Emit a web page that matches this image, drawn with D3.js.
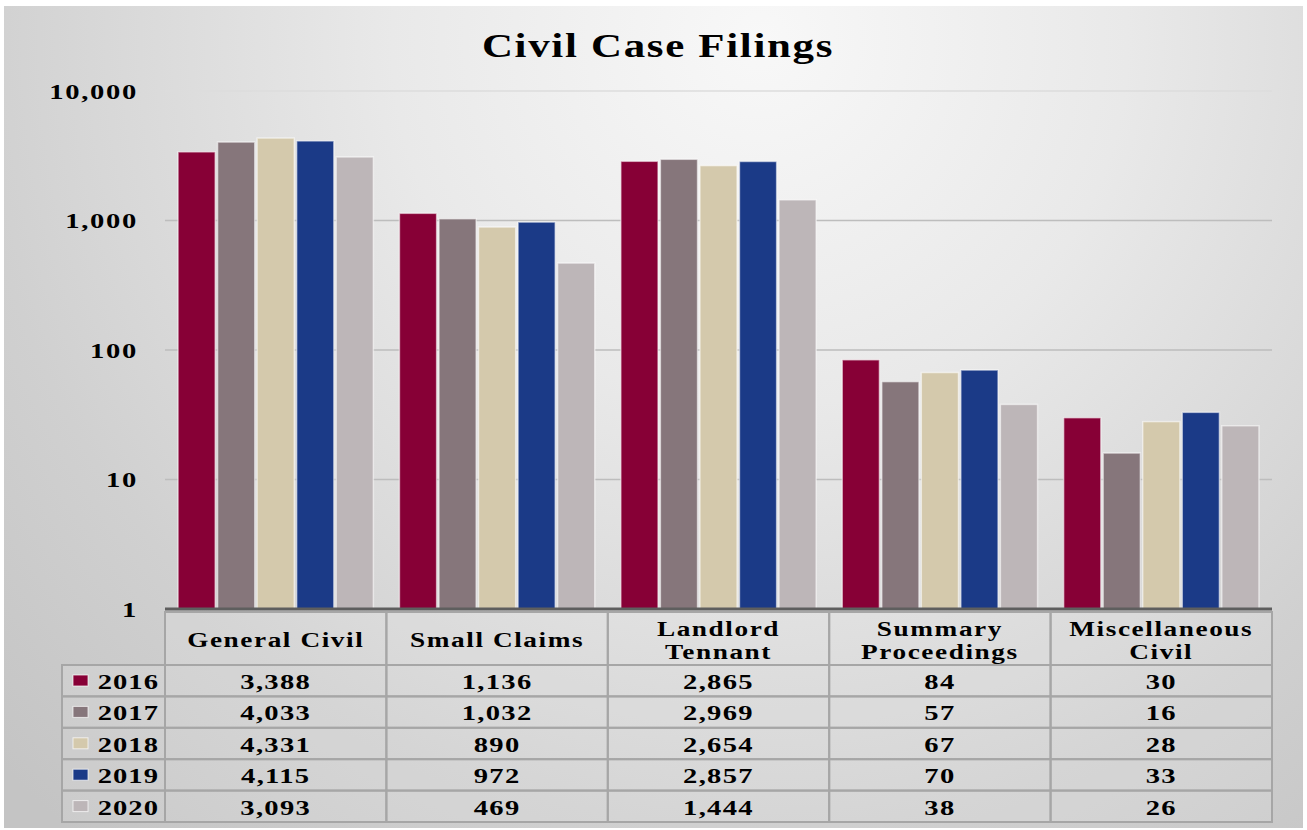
<!DOCTYPE html>
<html><head><meta charset="utf-8">
<script src="https://cdn.jsdelivr.net/npm/d3@7"></script>
<style>
html,body{margin:0;padding:0;background:#fff;}
svg{display:block;}
text{font-family:"Liberation Serif","Times New Roman",serif;font-weight:bold;fill:#000;}
</style></head>
<body>
<svg id="c" width="1307" height="830"></svg>
<script>
const categories = ["General Civil","Small Claims","Landlord Tennant","Summary Proceedings","Miscellaneous Civil"];
const categoryLines = [["General Civil"],["Small Claims"],["Landlord","Tennant"],["Summary","Proceedings"],["Miscellaneous","Civil"]];
const years = ["2016","2017","2018","2019","2020"];
const v2016 = [3388,1136,2865,84,30];
const v2017 = [4033,1032,2969,57,16];
const v2018 = [4331,890,2654,67,28];
const v2019 = [4115,972,2857,70,33];
const v2020 = [3093,469,1444,38,26];
const seriesValues = [v2016,v2017,v2018,v2019,v2020];
const colors = ["#870036","#86767b","#d4c9ac","#1b3a87","#bdb6b8"];
const yTicks = [1,10,100,1000,10000];
const title = "Civil Case Filings";

(function(){
const SX = 1.3;
const svg = d3.select("#c");
const defs = svg.append("defs");
const bg = defs.append("radialGradient").attr("id","bg").attr("gradientUnits","userSpaceOnUse")
  .attr("cx",760).attr("cy",40).attr("r",1050);
bg.append("stop").attr("offset","0%").attr("stop-color","#f8f8f8");
bg.append("stop").attr("offset","35%").attr("stop-color","#e9e9e9");
bg.append("stop").attr("offset","75%").attr("stop-color","#d0d0d0");
bg.append("stop").attr("offset","100%").attr("stop-color","#c4c4c4");
svg.append("rect").attr("x",4).attr("y",6).attr("width",1299).attr("height",822).attr("fill","url(#bg)");

function stext(parent, x, y, str, size, anchor, ls){
  return parent.append("text").attr("transform",`translate(${x},${y}) scale(${SX},1)`)
    .attr("text-anchor",anchor).style("font-size",size+"px").style("letter-spacing",ls+"px").text(str);
}

const pL = 165, pR = 1272, pT = 91, pB = 609;
const x = d3.scaleBand().domain(categories).range([pL,pR]).paddingInner(0).paddingOuter(0);
const xs = d3.scaleBand().domain(years).range([0,x.bandwidth()]).paddingOuter(0.33).paddingInner(0.06);
const y = d3.scaleLog().domain([1,10000]).range([pB,pT]);

stext(svg, 658, 57, title, 33, "middle", 1.3);

svg.append("g").selectAll("line").data(yTicks.slice(1)).join("line")
  .attr("x1",pL).attr("x2",pR).attr("y1",d=>y(d)).attr("y2",d=>y(d))
  .attr("stroke",d=>d>=10000?"#dcdcdc":"#bdbdbd").attr("stroke-width",1.5);

const yAxis = d3.axisLeft(y).tickValues(yTicks).tickFormat(d3.format(",")).tickSize(0).tickPadding(0);
const ya = svg.append("g").attr("transform","translate(138,0)").call(yAxis);
ya.select(".domain").remove();
ya.selectAll("text").style("font-size","22px").style("font-family","'Liberation Serif',serif").style("font-weight","bold")
  .style("letter-spacing","1.3px").attr("dy","0.32em").attr("fill","#000").attr("transform",`scale(${SX},1)`);

const g = svg.append("g");
categories.forEach((c,ci)=>{
  years.forEach((yr,si)=>{
    const v = seriesValues[si][ci];
    g.append("rect")
      .attr("x",x(c)+xs(yr)).attr("width",xs.bandwidth())
      .attr("y",y(v)).attr("height",pB-y(v))
      .attr("fill",colors[si]).attr("stroke","rgba(255,255,255,0.55)").attr("stroke-width",1.5);
  });
});

svg.append("line").attr("x1",pL).attr("x2",pR).attr("y1",pB).attr("y2",pB).attr("stroke","#5e5e5e").attr("stroke-width",3);

const headTop = 612, headBot = 665, rowH = 31.4;
const legLeft = 62;
const tg = svg.append("g");
const bc = "#a6a6a6";
categories.forEach((c,ci)=>{
  tg.append("rect").attr("x",x(c)).attr("y",headTop).attr("width",x.bandwidth()).attr("height",headBot-headTop)
    .attr("fill","rgba(255,255,255,0.12)").attr("stroke",bc).attr("stroke-width",2);
  const lines = categoryLines[ci];
  const cx = x(c)+x.bandwidth()/2;
  lines.forEach((ln,li)=>{
    const yy = lines.length===1 ? 647 : 636 + li*23;
    stext(tg, cx, yy, ln, 21, "middle", 1.2);
  });
});
years.forEach((yr,si)=>{
  const ry = headBot + si*rowH;
  tg.append("rect").attr("x",legLeft).attr("y",ry).attr("width",pL-legLeft).attr("height",rowH)
    .attr("fill","rgba(255,255,255,0.12)").attr("stroke",bc).attr("stroke-width",2);
  tg.append("rect").attr("x",73).attr("y",ry+10).attr("width",15).attr("height",11)
    .attr("fill",colors[si]).attr("stroke","rgba(255,255,255,0.7)").attr("stroke-width",1);
  stext(tg, 159, ry+24, yr, 22, "end", 0.8);
  categories.forEach((c,ci)=>{
    tg.append("rect").attr("x",x(c)).attr("y",ry).attr("width",x.bandwidth()).attr("height",rowH)
      .attr("fill","rgba(255,255,255,0.12)").attr("stroke",bc).attr("stroke-width",2);
    stext(tg, x(c)+x.bandwidth()/2, ry+24, d3.format(",")(seriesValues[si][ci]), 22, "middle", 1);
  });
});
})();
</script>
</body></html>
